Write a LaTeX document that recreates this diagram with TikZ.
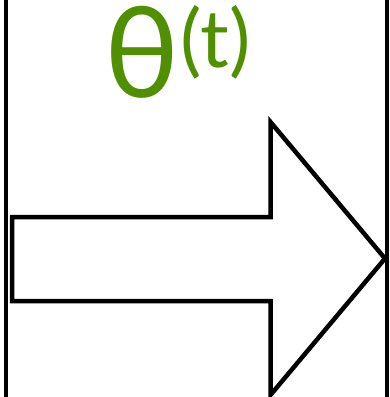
\documentclass[tikz,border=0pt]{standalone}
\usepackage{fontspec}
\newfontfamily\labelfont{Lato}
\definecolor{thetagreen}{RGB}{79,143,0}
\begin{document}
\begin{tikzpicture}[x=1pt,y=-1pt,
  edge/.style={line width=4.5pt, draw=black},
  bigarrow/.style={line width=4.5pt, draw=black, fill=white, line join=miter}]
\useasboundingbox (0,0) rectangle (389,397);
\fill[white] (0,0) rectangle (389,397);
\draw[edge] (6,-5) -- (6,402);
\draw[edge] (387,-5) -- (387,402);
\draw[bigarrow] (12,217) -- (270.5,217) -- (270.5,122) -- (385,258.5) -- (270.5,395) -- (270.5,301) -- (12,301) -- cycle;
\node[anchor=base west, inner sep=0pt, text=thetagreen, font=\labelfont] (theta) at (104,97)
  {\fontsize{126}{126}\selectfont θ\hspace{1pt}\raisebox{30pt}{\fontsize{80}{80}\selectfont (t)}};
\end{tikzpicture}
\end{document}
